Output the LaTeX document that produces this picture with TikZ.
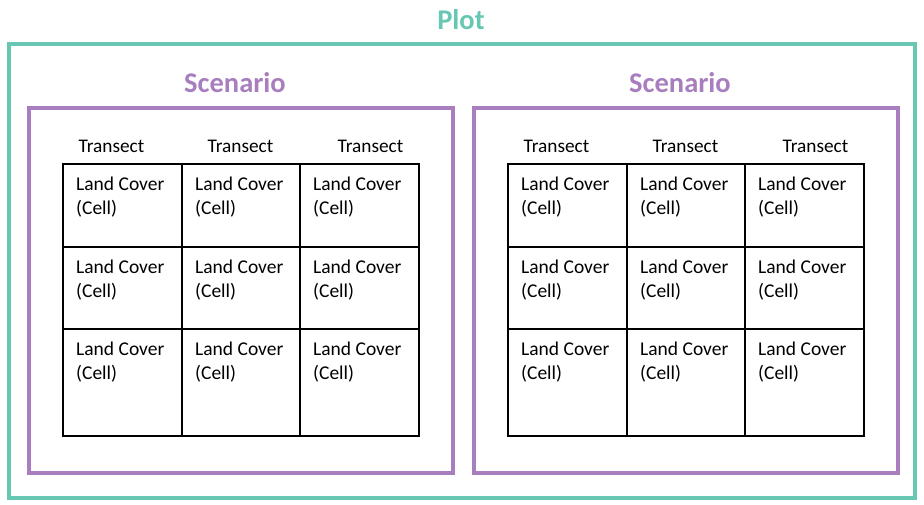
\documentclass[tikz,border=0pt]{standalone}
\usepackage{fontspec}
\setmainfont{Carlito}
\usetikzlibrary{positioning}
\definecolor{plotgreen}{RGB}{103,199,179}
\definecolor{scenpurple}{RGB}{168,126,190}
\tikzset{
  plotbox/.style={draw=plotgreen, line width=4pt},
  scenbox/.style={draw=scenpurple, line width=4pt},
  boxtitle/.style={anchor=base, font=\fontsize{28.5}{34}\selectfont\bfseries},
  cellbox/.style={draw=black, line width=1.4pt, anchor=north west,
                  inner sep=0pt, outer sep=0pt},
  celltext/.style={anchor=north west, align=left, inner sep=0pt,
                   font=\fontsize{19.5}{24}\selectfont},
  translabel/.style={anchor=base, font=\fontsize{19.3}{23}\selectfont}
}
\begin{document}
\begin{tikzpicture}[x=1pt, y=-1pt]
    \useasboundingbox (0, 0) rectangle (924, 505);
    % plot
    \draw[plotbox] (8.5, 44.5) rectangle (915, 498);
    \node[boxtitle, text=plotgreen] (plot) at (461, 29.5) {Plot};
    % two scenarios, each a 3x3 grid of cells
    \foreach \s/\dx in {a/0, b/445} {
      \draw[scenbox] (29+\dx, 108) rectangle (453+\dx, 473);
      \node[boxtitle, text=scenpurple] (scen-\s) at (235+\dx, 92.5) {Scenario};
      \foreach \c/\tx in {1/111.5, 2/240.5, 3/370.5}
        \node[translabel] (\s-tr\c) at (\tx+\dx, 153) {Transect};
      \foreach \r/\y/\h in {1/164/83, 2/247/82, 3/329/107} {
        \foreach \c/\x/\w in {1/63/119, 2/182/118, 3/300/119} {
          \node[cellbox, minimum width=\w pt, minimum height=\h pt]
               (\s-\r-\c) at (\x+\dx, \y) {};
          \node[celltext] (\s-\r-\c-txt)
               at ([xshift=13pt, yshift=-12.3pt]\s-\r-\c.north west)
               {Land Cover\\(Cell)};
        }
      }
    }
\end{tikzpicture}
\end{document}
